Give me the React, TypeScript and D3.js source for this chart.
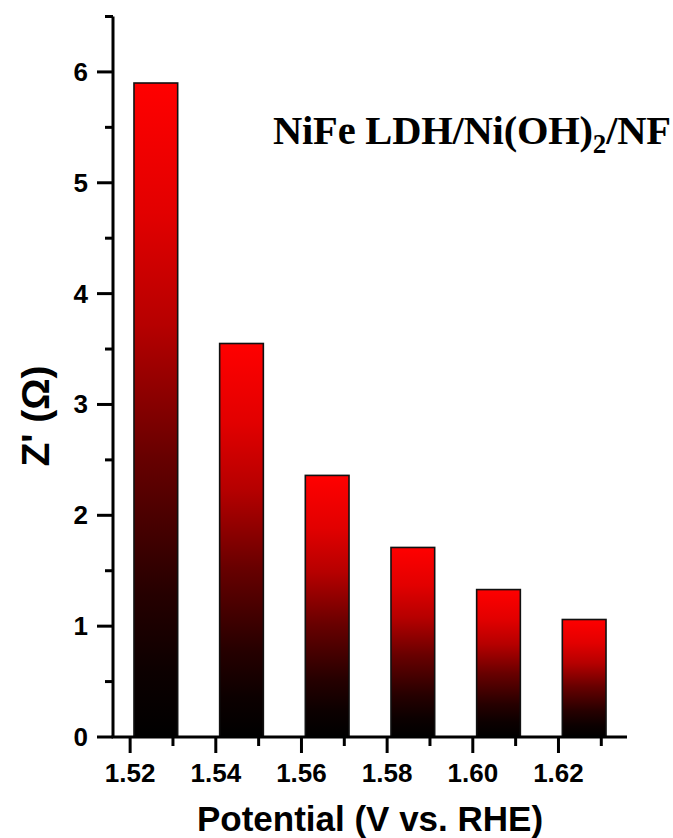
import React from "react";
import * as d3 from "d3";

const potentials = [1.526, 1.546, 1.566, 1.586, 1.606, 1.626];
const zValues = [5.9, 3.55, 2.36, 1.71, 1.33, 1.06];
const xMajorTicks = [1.52, 1.54, 1.56, 1.58, 1.6, 1.62];
const xMinorTicks = [1.53, 1.55, 1.57, 1.59, 1.61, 1.63];
const yMajorTicks = [0, 1, 2, 3, 4, 5, 6];
const yMinorTicks = [0.5, 1.5, 2.5, 3.5, 4.5, 5.5, 6.5];
const barWidth = 0.0102;
const gradStops: [number, number][] = [
  [0, 255], [0.2, 226], [0.37, 182], [0.57, 104], [0.78, 38], [0.9, 12], [1, 0],
];

export default function App() {
  const W = 673, H = 838;
  const x = d3.scaleLinear().domain([1.516, 1.636]).range([113, 627]);
  const y = d3.scaleLinear().domain([0, 6.5]).range([737, 16.5]);
  const y0 = y(0);
  const x0 = x.range()[0];
  const sans = "'Liberation Sans', Arial, sans-serif";
  return (
    <svg width={W} height={H} style={{ position: "absolute", left: 0, top: 0 }}>
      <defs>
        <linearGradient id="barGrad" x1="0" y1="0" x2="0" y2="1">
          {gradStops.map(([o, r]) => (
            <stop key={o} offset={o} stopColor={d3.rgb(r, 0, 0).formatHex()} />
          ))}
        </linearGradient>
      </defs>
      {potentials.map((p, i) => (
        <rect
          key={i}
          x={x(p - barWidth / 2)}
          y={y(zValues[i])}
          width={x(p + barWidth / 2) - x(p - barWidth / 2)}
          height={y0 - y(zValues[i])}
          fill="url(#barGrad)"
          stroke="#111"
          strokeWidth={1.6}
        />
      ))}
      <line x1={x0} x2={x0} y1={y(6.5)} y2={y0} stroke="#000" strokeWidth={3} />
      <line x1={x0 - 1.5} x2={x.range()[1]} y1={y0} y2={y0} stroke="#000" strokeWidth={3} />
      {yMajorTicks.map((t) => (
        <g key={"ym" + t}>
          <line x1={x0 - 16} x2={x0} y1={y(t)} y2={y(t)} stroke="#000" strokeWidth={3} />
          <text x={88} y={y(t) + 9} textAnchor="end" fontFamily={sans} fontWeight="bold" fontSize={26}>
            {t}
          </text>
        </g>
      ))}
      {yMinorTicks.map((t) => (
        <line key={"yn" + t} x1={x0 - 8} x2={x0} y1={y(t)} y2={y(t)} stroke="#000" strokeWidth={3} />
      ))}
      {xMajorTicks.map((t) => (
        <g key={"xm" + t}>
          <line x1={x(t)} x2={x(t)} y1={y0} y2={y0 + 16} stroke="#000" strokeWidth={3} />
          <text x={x(t)} y={782} textAnchor="middle" fontFamily={sans} fontWeight="bold" fontSize={26}>
            {t.toFixed(2)}
          </text>
        </g>
      ))}
      {xMinorTicks.map((t) => (
        <line key={"xn" + t} x1={x(t)} x2={x(t)} y1={y0} y2={y0 + 9} stroke="#000" strokeWidth={3} />
      ))}
      <text x={370} y={831} textAnchor="middle" fontFamily={sans} fontWeight="bold" fontSize={35}>
        Potential (V vs. RHE)
      </text>
      <text
        transform={`translate(49, 416) rotate(-90)`}
        textAnchor="middle"
        fontFamily={sans}
        fontWeight="bold"
        fontSize={39}
      >
        Z' (Ω)
      </text>
      <text x={273} y={144} fontFamily="'Liberation Serif', 'Times New Roman', serif" fontWeight="bold" fontSize={40.5} letterSpacing={-0.2}>
        NiFe LDH/Ni(OH)
        <tspan fontSize={27} dy={9}>2</tspan>
        <tspan dy={-9}>/NF</tspan>
      </text>
    </svg>
  );
}
